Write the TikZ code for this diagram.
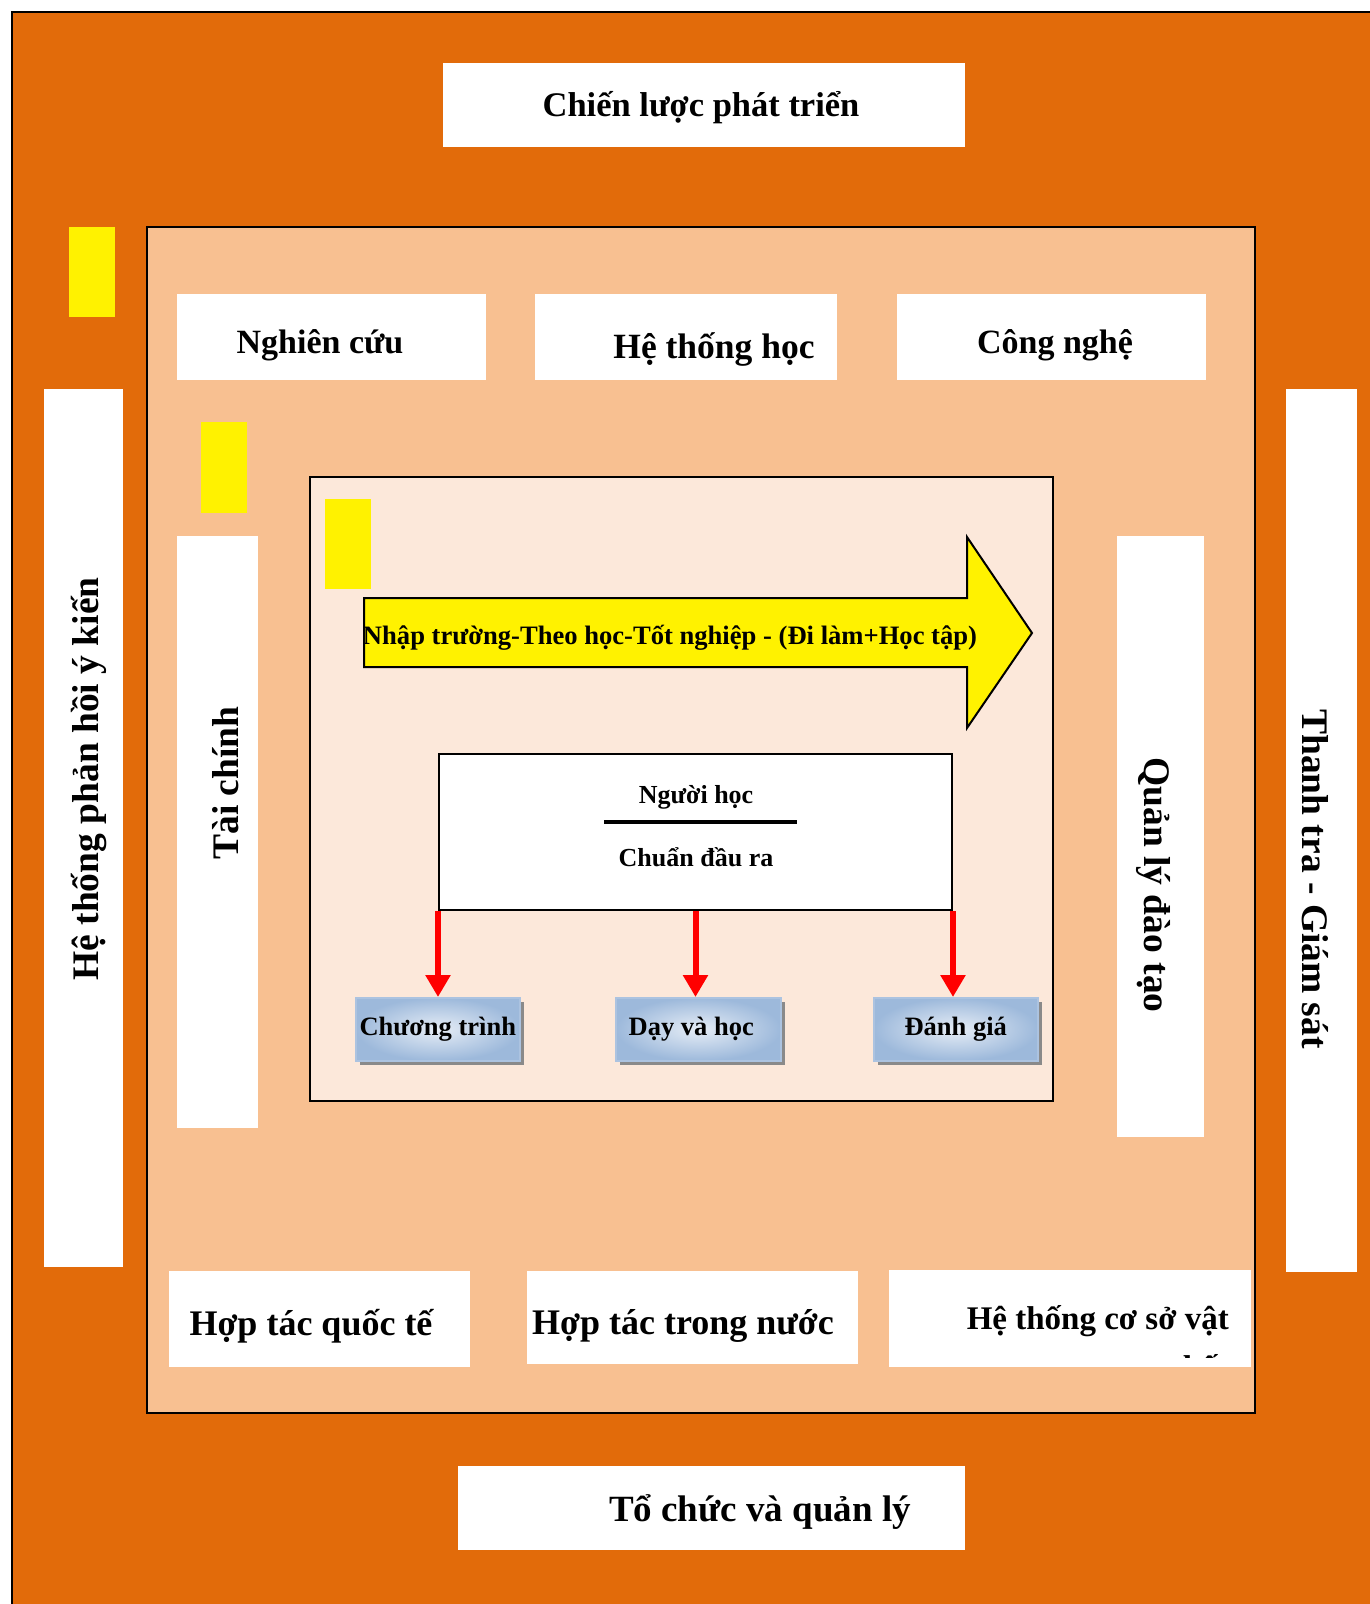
\documentclass[tikz,border=0pt]{standalone}
\usepackage{fontspec}
\setmainfont{Liberation Serif}
\usetikzlibrary{arrows.meta,shadows}

\definecolor{rimorange}{HTML}{E26B0A}
\definecolor{peachfill}{HTML}{F8C091}
\definecolor{creamfill}{HTML}{FCE8DA}
\definecolor{boxblue}{HTML}{9DB9DB}
\definecolor{boxlight}{HTML}{E6EDF6}
\definecolor{shadowgray}{HTML}{8A8A8A}

\tikzset{
  panel/.style={fill=white, draw=none, inner sep=0pt, anchor=north west},
  marker/.style={fill=yellow, draw=none, inner sep=0pt, anchor=north west},
  capt/.style={font=\bfseries\fontsize{#1}{44}\selectfont, inner sep=0pt},
  midcapt/.style={font=\bfseries\fontsize{26}{30}\selectfont, inner sep=0pt},
  stagebox/.style={draw=boxblue!85, line width=1.5pt, inner color=boxlight,
    outer color=boxblue, anchor=north west, minimum height=63pt,
    font=\bfseries\fontsize{26.5}{30}\selectfont,
    drop shadow={fill=shadowgray, opacity=1, shadow xshift=4pt, shadow yshift=-4pt}},
  flowarrow/.style={draw=red, line width=6pt, -{Triangle[length=22pt,width=24pt]}}
}

\begin{document}
\begin{tikzpicture}[x=1pt,y=-1pt]
  \clip (0,0) rectangle (1370,1604);
  \fill[white] (0,0) rectangle (1370,1604);

  % nested frames
  \draw[fill=rimorange, line width=2.5pt] (12,12) rectangle (1420,1650);
  \draw[fill=peachfill, line width=2pt] (147,227) rectangle (1255,1413);
  \draw[fill=creamfill, line width=2pt] (310,477) rectangle (1053,1101);

  % yellow markers
  \node[marker, minimum width=46pt, minimum height=90pt] (markA) at (69,227) {};
  \node[marker, minimum width=46pt, minimum height=91pt] (markB) at (201,422) {};
  \node[marker, minimum width=46pt, minimum height=90pt] (markC) at (325,499) {};

  % white panels of the outer ring
  \node[panel, minimum width=522pt, minimum height=84pt] (strategy) at (443,63) {};
  \node[panel, minimum width=79pt, minimum height=878pt] (feedback) at (44,389) {};
  \node[panel, minimum width=71pt, minimum height=883pt] (inspect) at (1286,389) {};
  \node[panel, minimum width=507pt, minimum height=84pt] (organise) at (458,1466) {};

  % white panels of the middle ring
  \node[panel, minimum width=309pt, minimum height=86pt] (research) at (177,294) {};
  \node[panel, minimum width=302pt, minimum height=86pt] (syslearn) at (535,294) {};
  \node[panel, minimum width=309pt, minimum height=86pt] (tech) at (897,294) {};
  \node[panel, minimum width=81pt, minimum height=592pt] (finance) at (177,536) {};
  \node[panel, minimum width=87pt, minimum height=601pt] (mgmt) at (1117,536) {};
  \node[panel, minimum width=301pt, minimum height=96pt] (intl) at (169,1271) {};
  \node[panel, minimum width=331pt, minimum height=93pt] (domestic) at (527,1271) {};
  \node[panel, minimum width=362pt, minimum height=97pt] (facility) at (889,1270) {};

  % captions
  \node[capt=34.5] (strategyT) at (701,108) {Chiến lược phát triển};
  \node[capt=34] (researchT) at (320,345) {Nghiên cứu};
  \node[capt=35.5] (syslearnT) at (714,349) {Hệ thống học};
  \node[capt=34] (techT) at (1055,345) {Công nghệ};
  \node[capt=36] (intlT) at (311,1326) {Hợp tác quốc tế};
  \node[capt=36] (domesticT) at (683,1326) {Hợp tác trong nước};
  \node[capt=37] (organiseT) at (760,1512) {Tổ chức và quản lý};
  \begin{scope}
    \clip (889,1270) rectangle (1251,1357);
    \node[capt=33, anchor=base east] (facilityT) at (1229,1329) {Hệ thống cơ sở vật};
    \node[capt=33, anchor=base east] (facilityT2) at (1229,1378) {chất};
  \end{scope}

  \node[capt=37.5, rotate=90] (feedbackT) at (89,779) {Hệ thống phản hồi ý kiến};
  \node[capt=37.5, rotate=90] (financeT) at (226,783) {Tài chính};
  \node[capt=37.5, rotate=-90] (mgmtT) at (1153,885) {Quản lý đào tạo};
  \node[capt=37.5, rotate=-90] (inspectT) at (1315,879) {Thanh tra - Giám sát};

  % study path arrow
  \draw[fill=yellow, line width=2pt, line join=miter]
    (364,598) -- (967,598) -- (967,537) -- (1032,633) -- (967,728)
    -- (967,667) -- (364,667) -- cycle;
  \node[capt=26.6] (pathT) at (670,638)
    {Nhập trường-Theo học-Tốt nghiệp - (Đi làm+Học tập)};

  % learner / outcomes box
  \node[draw, fill=white, line width=2pt, anchor=north west, inner sep=0pt,
        minimum width=513pt, minimum height=156pt] (learner) at (438,753) {};
  \node[midcapt] (learnerT) at (696,797) {Người học};
  \draw[line width=4pt] (604,822) -- (797,822);
  \node[midcapt] (outcomeT) at (696,857) {Chuẩn đầu ra};

  % three stages
  \node[stagebox, minimum width=164pt, inner sep=0pt] (prog) at (355,997) {Chương trình};
  \node[stagebox, minimum width=165pt, inner sep=0pt] (teach) at (615,997)
    {Dạy và học\hspace*{14pt}};
  \node[stagebox, minimum width=164pt, inner sep=0pt] (assess) at (873,997) {Đánh giá};

  \draw[flowarrow] (learner.south west) -- (learner.south west |- prog.north);
  \draw[flowarrow] (learner.south) -- (learner.south |- teach.north);
  \draw[flowarrow] (learner.south east) -- (learner.south east |- assess.north);
\end{tikzpicture}
\end{document}
